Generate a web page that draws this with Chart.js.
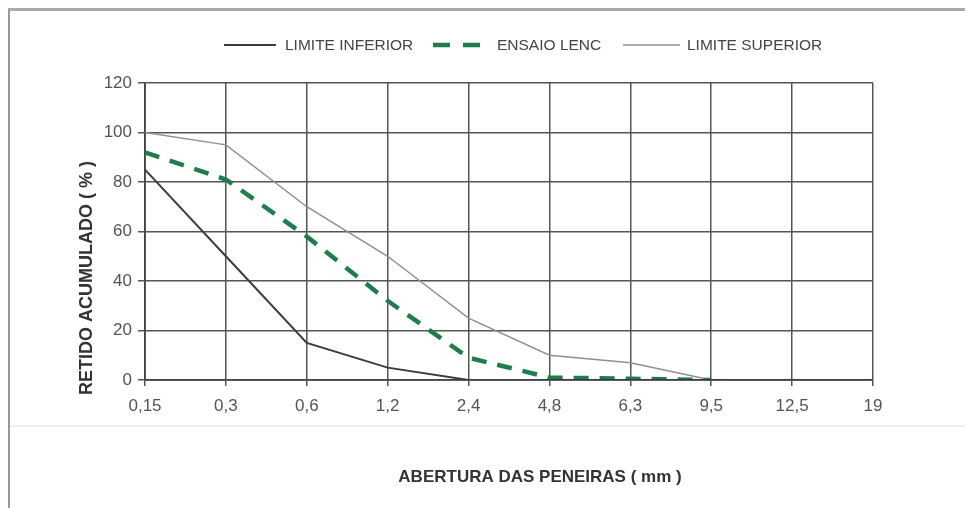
<!DOCTYPE html>
<html>
<head>
<meta charset="utf-8">
<script src="https://cdn.jsdelivr.net/npm/chart.js@4"></script>
<style>
  html, body { margin: 0; padding: 0; background: #fff; }
  #wrap { position: relative; width: 965px; height: 508px; }
  #frame { position: absolute; left: 8px; top: 8px; right: 0; bottom: 0;
           border-top: 3px solid #aaa; border-left: 2px solid #999; }
  #band { position: absolute; left: 10px; right: 0; top: 425px; height: 2px; background: #eee; }
  canvas { position: absolute; left: 0; top: 0; }
</style>
</head>
<body>
<div id="wrap">
  <div id="frame"></div>
  <div id="band"></div>
  <canvas id="chart" width="965" height="508"></canvas>
</div>
<script>
// sieve openings (mm)
const sieves = ["0,15", "0,3", "0,6", "1,2", "2,4", "4,8", "6,3", "9,5", "12,5", "19"];
// cumulative retained (%)
const limiteInferior = [85, 50, 15, 5, 0, 0, 0, 0, 0, 0];
const ensaioLenc = [92, 81, 58, 32, 9, 1, 0.5, 0, null, null];
const limiteSuperior = [100, 95, 70, 50, 25, 10, 7, 0, null, null];
const yTicks = [0, 20, 40, 60, 80, 100, 120];

const FONT = "'Liberation Sans', Arial, sans-serif";
const xTitle = "ABERTURA DAS PENEIRAS ( mm )";
const yTitle = "RETIDO ACUMULADO ( % )";

//legend row and axis titles, placed like in the scanned original
const decorations = {
  id: "decorations",
  afterDraw: (chart) => {
    const ctx = chart.ctx;
    const items = [
      { ds: 0, x1: 224, x2: 276, tx: 285, dash: null },
      { ds: 1, x1: 433, x2: 480, tx: 497, dash: [17, 13] },
      { ds: 2, x1: 623, x2: 680, tx: 687, dash: null },
    ];
    const y = 45;
    ctx.save();
    items.forEach((it) => {
      const d = chart.data.datasets[it.ds];
      ctx.strokeStyle = d.borderColor;
      ctx.lineWidth = d.borderWidth;
      ctx.setLineDash(it.dash || []);
      ctx.beginPath();
      ctx.moveTo(it.x1, y);
      ctx.lineTo(it.x2, y);
      ctx.stroke();
      ctx.setLineDash([]);
      ctx.fillStyle = "#444";
      ctx.font = "15.5px " + FONT;
      ctx.textBaseline = "middle";
      ctx.fillText(d.label, it.tx, y + 1);
    });

    ctx.fillStyle = "#333";
    ctx.textAlign = "center";
    ctx.textBaseline = "middle";
    ctx.font = "bold 17px " + FONT;
    ctx.fillText(xTitle, 540, 477);

    ctx.translate(87, 278);
    ctx.rotate(-Math.PI / 2);
    ctx.font = "bold 18px " + FONT;
    ctx.fillText(yTitle, 0, 0);
    ctx.restore();
  },
};

new Chart(document.getElementById("chart"), {
  type: "line",
  data: {
    labels: sieves,
    datasets: [
      {
        label: "LIMITE INFERIOR",
        data: limiteInferior,
        borderColor: "#3b3b45",
        borderWidth: 2,
        pointRadius: 0,
        tension: 0,
      },
      {
        label: "ENSAIO LENC",
        data: ensaioLenc,
        borderColor: "#1f7d4c",
        borderWidth: 4.5,
        borderDash: [15, 11],
        pointRadius: 0,
        tension: 0,
      },
      {
        label: "LIMITE SUPERIOR",
        data: limiteSuperior,
        borderColor: "#909090",
        borderWidth: 1.5,
        pointRadius: 0,
        tension: 0,
      },
    ],
  },
  options: {
    responsive: false,
    animation: false,
    layout: { padding: { left: 85, right: 92, top: 83, bottom: 88 } },
    plugins: {
      legend: { display: false },
      tooltip: { enabled: false },
    },
    scales: {
      x: {
        offset: false,
        afterFit: (scale) => { scale.height = 40; },
        grid: { color: "#555", lineWidth: 1.5, tickLength: 6, tickColor: "#555" },
        border: { color: "#444", width: 1.8 },
        ticks: { color: "#555", font: { family: FONT, size: 17 }, padding: 10, maxRotation: 0, autoSkip: false },
      },
      y: {
        min: 0,
        max: 120,
        afterBuildTicks: (scale) => {
          scale.ticks = yTicks.map((v) => ({ value: v }));
        },
        afterFit: (scale) => { scale.width = 60; },
        grid: { color: "#555", lineWidth: 1.5, tickLength: 7, tickColor: "#555" },
        border: { color: "#444", width: 1.8 },
        ticks: { color: "#555", font: { family: FONT, size: 17 }, padding: 6 },
      },
    },
  },
  plugins: [decorations],
});
</script>
</body>
</html>
